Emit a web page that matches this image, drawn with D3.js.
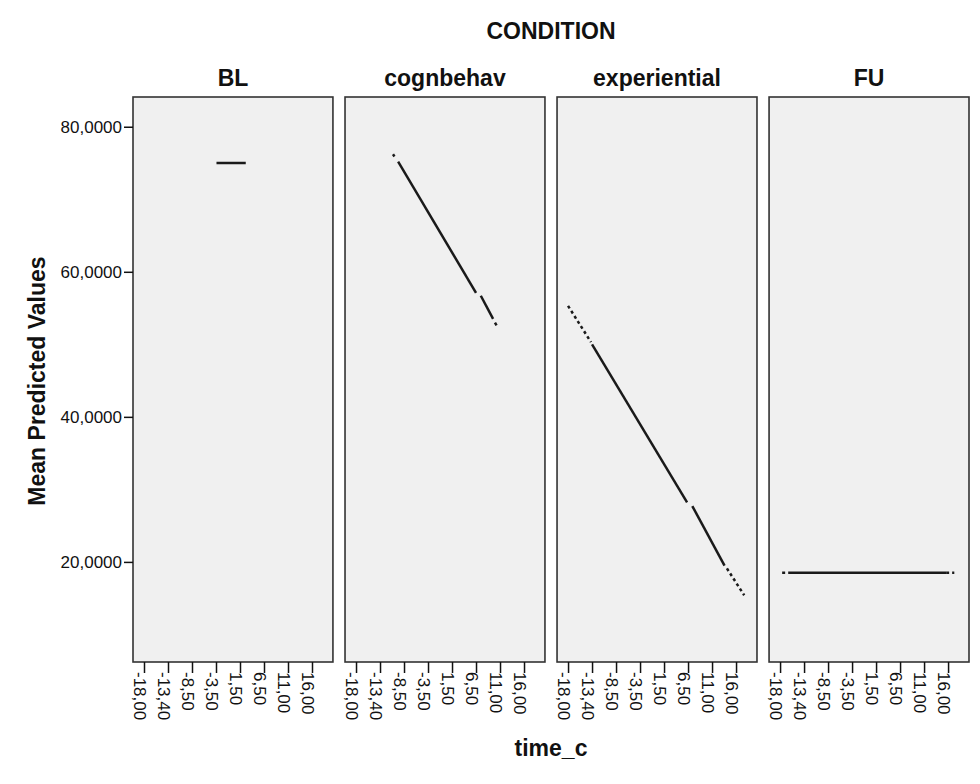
<!DOCTYPE html>
<html>
<head>
<meta charset="utf-8">
<script src="https://cdn.jsdelivr.net/npm/d3@7"></script>
<style>
  body { margin: 0; background: #fff; }
  text { font-family: "Liberation Sans", Arial, sans-serif; fill: #111; }
</style>
</head>
<body>
<div id="chart"></div>
<script>
// Facet categories and axis ticks
const conditions = ["BL", "cognbehav", "experiential", "FU"];
const timeTicks = [-18, -13.4, -8.5, -3.5, 1.5, 6.5, 11, 16];
const yTicks = [20, 40, 60, 80];

// Line pieces per condition: [time_c, mean predicted value]
const blSegments = [
    { style: "solid", pts: [[-3.4, 75.0], [2.7, 75.0]] }
];
const cognSegments = [
    { style: "solid", pts: [[-10.75, 76.2], [-10.45, 75.9]] },
    { style: "solid", pts: [[-9.7, 75.2], [6.5, 57.1]] },
    { style: "solid", pts: [[7.4, 56.7], [9.7, 53.5]] },
    { style: "solid", pts: [[10.05, 53.0], [10.35, 52.6]] }
];
const expSegments = [
    { style: "dotted", pts: [[-18.0, 55.3], [-13.6, 50.3]] },
    { style: "solid", pts: [[-13.4, 50.0], [6.3, 28.2]] },
    { style: "solid", pts: [[7.3, 27.7], [13.6, 19.5]] },
    { style: "dotted", pts: [[14.1, 19.1], [17.7, 15.4]] }
];
const fuSegments = [
    { style: "dotted", pts: [[-17.6, 18.5], [-16.3, 18.5]] },
    { style: "solid", pts: [[-16.3, 18.5], [15.6, 18.5]] },
    { style: "dotted", pts: [[15.6, 18.5], [17.3, 18.5]] }
];
const segmentsByCondition = [blSegments, cognSegments, expSegments, fuSegments];

const W = 980, H = 784;
const plotTop = 97, plotBottom = 662;

const svg = d3.select("#chart")
    .append("svg")
    .attr("width", W)
    .attr("height", H);

// Panel placement
const panel = d3.scaleBand()
    .domain(conditions)
    .range([133, 969])
    .paddingInner(0.057)
    .paddingOuter(0);
const pw = panel.bandwidth();

// Categorical-looking time axis: ticks evenly spaced
const x = d3.scaleLinear()
    .domain(timeTicks)
    .range(timeTicks.map((d, i) => 11 + i * 24));

const y = d3.scaleLinear()
    .domain([6.2, 84.1])
    .range([plotBottom, plotTop]);

// SPSS style: comma decimal, plain hyphen minus
const locale = d3.formatLocale({ decimal: ",", thousands: ".", grouping: [3], currency: ["", ""], minus: "-" });
const fmtY = locale.format(".4f");
const fmtX = locale.format(".2f");

const line = d3.line()
    .x(d => x(d[0]))
    .y(d => y(d[1]));

conditions.forEach(function(c, i) {
    const g = svg.append("g")
        .attr("transform", "translate(" + panel(c) + ",0)");

    g.append("rect")
        .attr("x", 0)
        .attr("y", plotTop)
        .attr("width", pw)
        .attr("height", plotBottom - plotTop)
        .attr("fill", "#f0f0f0")
        .attr("stroke", "#333")
        .attr("stroke-width", 1.6);

    // panel title
    g.append("text")
        .attr("x", pw / 2)
        .attr("y", 86)
        .attr("text-anchor", "middle")
        .style("font-size", "23px")
        .style("font-weight", "bold")
        .text(c);

    // the lines
    g.selectAll(".seg")
        .data(segmentsByCondition[i])
        .enter().append("path")
        .attr("class", "seg")
        .attr("d", d => line(d.pts))
        .attr("fill", "none")
        .attr("stroke", "#1a1a1a")
        .attr("stroke-width", 2.5)
        .attr("stroke-dasharray", d => d.style === "dotted" ? "3,3" : null);

    // x axis for each panel
    const xa = g.append("g")
        .attr("transform", "translate(0," + plotBottom + ")")
        .call(d3.axisBottom(x).tickValues(timeTicks).tickFormat(fmtX).tickSize(11).tickSizeOuter(0));
    xa.select(".domain").remove();
    xa.selectAll("line").attr("stroke", "#111").attr("stroke-width", 1.5);
    xa.selectAll("text")
        .attr("transform", "rotate(90)")
        .attr("x", 10)
        .attr("y", 0)
        .attr("dy", "0.6em")
        .style("text-anchor", "start")
        .style("font-family", "Liberation Sans, Arial, sans-serif")
        .style("font-size", "17px")
        .attr("fill", "#111");
});

// y axis on the first panel
const ya = svg.append("g")
    .attr("transform", "translate(" + panel(conditions[0]) + ",0)")
    .call(d3.axisLeft(y).tickValues(yTicks).tickFormat(fmtY).tickSize(9).tickPadding(2).tickSizeOuter(0));
ya.select(".domain").remove();
ya.selectAll("line").attr("stroke", "#111").attr("stroke-width", 1.5);
ya.selectAll("text")
    .style("font-family", "Liberation Sans, Arial, sans-serif")
    .style("font-size", "17px")
    .attr("fill", "#111");

// Titles
svg.append("text")
    .attr("x", 551)
    .attr("y", 39)
    .attr("text-anchor", "middle")
    .style("font-size", "23px")
    .style("font-weight", "bold")
    .text("CONDITION");

svg.append("text")
    .attr("x", 551)
    .attr("y", 756)
    .attr("text-anchor", "middle")
    .style("font-size", "23px")
    .style("font-weight", "bold")
    .text("time_c");

svg.append("text")
    .attr("transform", "rotate(-90)")
    .attr("x", -381)
    .attr("y", 45)
    .attr("text-anchor", "middle")
    .style("font-size", "23px")
    .style("font-weight", "bold")
    .text("Mean Predicted Values");
</script>
</body>
</html>
